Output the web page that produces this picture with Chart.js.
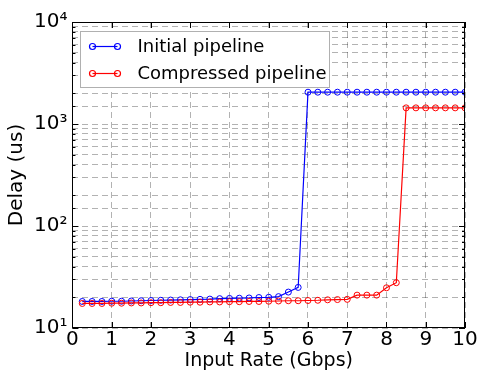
<!DOCTYPE html>
<html>
<head>
<meta charset="utf-8">
<script src="https://cdn.jsdelivr.net/npm/chart.js@4/dist/chart.umd.min.js"></script>
<style>
html, body { margin: 0; padding: 0; background: #fff; overflow: hidden; }
#wrap { width: 478px; height: 372px; }
</style>
</head>
<body>
<div id="wrap"><canvas id="delay"></canvas></div>
<script>
// input rate (Gbps)
const rates = [0.25, 0.5, 0.75, 1, 1.25, 1.5, 1.75, 2, 2.25, 2.5,
  2.75, 3, 3.25, 3.5, 3.75, 4, 4.25, 4.5, 4.75, 5,
  5.25, 5.5, 5.75, 6, 6.25, 6.5, 6.75, 7, 7.25, 7.5,
  7.75, 8, 8.25, 8.5, 8.75, 9, 9.25, 9.5, 9.75, 10]

// delay (us)
const initialDelay = [18.2, 18.2, 18.2, 18.3, 18.3, 18.4, 18.5, 18.6, 18.7, 18.8,
  18.9, 19.0, 19.1, 19.2, 19.4, 19.5, 19.6, 19.7, 19.9, 20.0,
  20.3, 22.5, 25.0, 2050, 2050, 2050, 2050, 2050, 2050, 2050,
  2050, 2050, 2050, 2050, 2050, 2050, 2050, 2050, 2050, 2050]

const compressedDelay = [17.4, 17.4, 17.4, 17.5, 17.5, 17.6, 17.6, 17.7, 17.7, 17.8,
  17.8, 17.9, 17.9, 18.0, 18.0, 18.1, 18.1, 18.2, 18.2, 18.3,
  18.4, 18.5, 18.5, 18.6, 18.7, 18.9, 19.0, 19.1, 21.0, 21.0,
  21.0, 24.8, 27.8, 1440, 1440, 1440, 1440, 1440, 1440, 1440]

const yMajor = [10, 100, 1000, 10000]
const yMajorLabels = ['10¹', '10²', '10³', '10⁴']

const font = 'DejaVu Sans'

const toPoints = (ys) => rates.map((r, i) => ({ x: r, y: ys[i] }))

// frame, inward ticks and the boxed legend (matplotlib classic look)
const framePlugin = {
  id: 'frame',
  afterDraw(chart) {
    const { ctx, chartArea: a, scales: { x, y } } = chart
    ctx.save()
    ctx.strokeStyle = '#000'
    ctx.lineWidth = 1
    ctx.beginPath()
    x.ticks.forEach((t) => {
      const px = Math.round(x.getPixelForValue(t.value)) + 0.5
      ctx.moveTo(px, a.bottom); ctx.lineTo(px, a.bottom - 6)
      ctx.moveTo(px, a.top); ctx.lineTo(px, a.top + 6)
    })
    y.ticks.forEach((t) => {
      const len = yMajor.includes(t.value) ? 6 : 3
      const py = Math.round(y.getPixelForValue(t.value)) + 0.5
      ctx.moveTo(a.left, py); ctx.lineTo(a.left + len, py)
      ctx.moveTo(a.right, py); ctx.lineTo(a.right - len, py)
    })
    ctx.stroke()
    ctx.strokeRect(Math.round(a.left) + 0.5, Math.round(a.top) + 0.5, Math.round(a.width) - 1, Math.round(a.height) - 1)

    // legend
    const lx = Math.round(a.left) + 8.5
    const ly = Math.round(a.top) + 9.5
    ctx.fillStyle = '#fff'
    ctx.fillRect(lx, ly, 249, 56)
    ctx.strokeStyle = '#b0b0b0'
    ctx.strokeRect(lx, ly, 249, 56)
    ctx.font = '18px "' + font + '"'
    ctx.textBaseline = 'middle'
    chart.data.datasets.forEach((ds, i) => {
      const ry = ly + 15 + i * 27
      ctx.strokeStyle = ds.borderColor
      ctx.lineWidth = 1.2
      ctx.beginPath()
      ctx.moveTo(lx + 12, ry); ctx.lineTo(lx + 37, ry)
      ctx.stroke()
      ;[lx + 12, lx + 37].forEach((cx) => {
        ctx.beginPath()
        ctx.arc(cx, ry, 3, 0, Math.PI * 2)
        ctx.stroke()
      })
      ctx.fillStyle = '#000'
      ctx.fillText(ds.label, lx + 57, ry + 1)
    })
    ctx.restore()
  }
}

const gridOpts = { color: 'rgba(0,0,0,0.3)', lineWidth: 1, drawTicks: false }

new Chart(
  document.getElementById('delay'),
  {
    type: 'line',
    data: {
      datasets: [{
        label: 'Initial pipeline',
        data: toPoints(initialDelay),
        borderColor: '#0000ff',
        backgroundColor: 'rgba(0,0,0,0)',
        pointBorderColor: '#0000ff',
        order: 1,
      }, {
        label: 'Compressed pipeline',
        data: toPoints(compressedDelay),
        borderColor: '#ff0000',
        backgroundColor: 'rgba(0,0,0,0)',
        pointBorderColor: '#ff0000',
        order: 0,
      }]
    },
    options: {
      responsive: true,
      maintainAspectRatio: false,
      animation: false,
      layout: { padding: { top: 22, right: 13, bottom: 1, left: 7 } },
      elements: {
        line: { borderWidth: 1.2, tension: 0 },
        point: { radius: 3, borderWidth: 1, pointStyle: 'circle', hoverRadius: 3 },
      },
      scales: {
        x: {
          type: 'linear',
          min: 0,
          max: 10,
          ticks: { stepSize: 1, color: '#000', padding: 0, font: { family: font, size: 20, lineHeight: 1.2 }, maxRotation: 0 },
          grid: gridOpts,
          border: { display: false, dash: [6, 4] },
          title: { display: true, text: 'Input Rate (Gbps)', color: '#000', font: { family: font, size: 19, lineHeight: 1 }, padding: 0 },
        },
        y: {
          type: 'logarithmic',
          min: 10,
          max: 10000,
          ticks: {
            autoSkip: false,
            color: '#000',
            padding: 5,
            font: { family: font, size: 20 },
            callback: (v) => {
              const k = yMajor.indexOf(v)
              return k >= 0 ? yMajorLabels[k] : ''
            }
          },
          grid: gridOpts,
          border: { display: false, dash: [6, 4] },
          title: { display: true, text: 'Delay (us)', color: '#000', font: { family: font, size: 20, lineHeight: 1 }, padding: { top: 0, bottom: 2 } },
        },
      },
      plugins: {
        legend: { display: false },
        tooltip: { enabled: false },
      },
    },
    plugins: [framePlugin]
  }
)
</script>
</body>
</html>
